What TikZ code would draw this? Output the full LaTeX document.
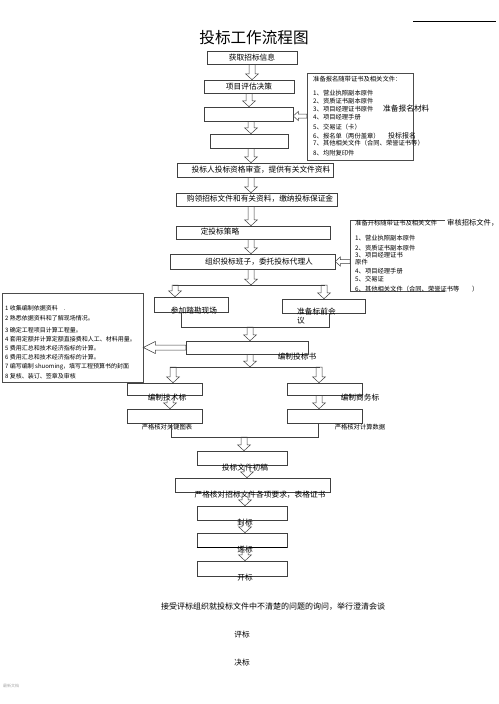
\documentclass[tikz,border=0pt]{standalone}
\usepackage{fontspec}
\setmainfont{Noto Sans CJK SC}
\usetikzlibrary{calc, positioning}
\tikzset{
  stepbox/.style={draw=black!75, line width=0.5pt, inner sep=0pt},
  notebox/.style={draw=black!70, line width=0.5pt},
  joinline/.style={draw=black!75, line width=0.5pt},
  hollowline/.style={draw=black!75, line width=0.5pt, line join=miter},
  boxtext/.style={inner sep=0pt, font=\fontsize{7.7}{8}\selectfont},
  notetext/.style={inner sep=0pt, anchor=west, font=\fontsize{6.3}{7}\selectfont},
  smalltext/.style={inner sep=0pt, anchor=west, font=\fontsize{6}{7}\selectfont},
}
% #1 shaft half width, #2 head half width, #3 head length, #4 from, #5 to
\newcommand{\blockarrow}[5]{%
  \draw[hollowline] let \p1=(#4), \p2=(#5), \p3=($(\p2)!#3!(\p1)$) in
    ($(\p1)!#1!90:(\p2)$) -- ($(\p3)!#1!90:(\p2)$) -- ($(\p3)!#2!90:(\p2)$) -- (\p2)
    -- ($(\p3)!#2!-90:(\p2)$) -- ($(\p3)!#1!-90:(\p2)$) -- ($(\p1)!#1!-90:(\p2)$) -- cycle;
}
\newcommand{\hollowarrow}[2]{\blockarrow{3pt}{6.5pt}{6pt}{#1}{#2}}
\newcommand{\smallarrow}[2]{\blockarrow{2pt}{4.5pt}{5pt}{#1}{#2}}

\begin{document}
\begin{tikzpicture}[x=1pt, y=-1pt]
\path[use as bounding box, fill=white] (0,0) rectangle (498,704);
\node[font=\fontsize{15.6}{16}\selectfont] (title) at (254,37.5) {投标工作流程图};
\coordinate (rule-l) at (413,21);
\coordinate (rule-r) at (496,21);
\draw[line width=1pt] (rule-l) -- (rule-r);

% main column
\node[stepbox, minimum width=90, minimum height=13, boxtext] (b1) at (252,57.5) {获取招标信息};
\node[stepbox, minimum width=90, minimum height=13, boxtext] (b2) at (249,86.5) {项目评估决策};
\node[stepbox, minimum width=89, minimum height=14] (b3) at (248.5,114) {};
\node[stepbox, minimum width=78, minimum height=14] (b4) at (249,141) {};
\node[stepbox, minimum width=156, minimum height=14] (b5) at (255,170) {};
\node[boxtext] (t5) at (261,170) {投标人投标资格审查，提供有关文件资料};
\node[stepbox, minimum width=161, minimum height=13] (b6) at (256.5,199.5) {};
\node[boxtext] (t6) at (260,199) {购领招标文件和有关资料，缴纳投标保证金};
\node[stepbox, minimum width=154, minimum height=13] (b7) at (253,232.5) {};
\node[boxtext] (t7) at (220,232) {定投标策略};
\node[stepbox, minimum width=165, minimum height=15] (b8) at (252.5,261.5) {};
\node[boxtext] (t8) at (259,262) {组织投标班子，委托投标代理人};

\hollowarrow{b1.south}{b1.south |- b2.north}
\hollowarrow{b2.south}{b2.south |- b3.north}
\hollowarrow{b3.south -| 251,0}{b4.north -| 251,0}
\hollowarrow{b4.south -| 251,0}{b5.north -| 251,0}
\hollowarrow{b5.south -| 251,0}{b6.north -| 251,0}
\hollowarrow{b6.south -| 251,0}{b7.north -| 251,0}
\hollowarrow{b7.south -| 251,0}{b8.north -| 251,0}

% note: registration papers
\node[notebox, minimum width=106, minimum height=87] (n1) at (360,116.5) {};
\node[notetext] (n1-0) at (313,79) {准备报名随带证书及相关文件：};
\node[notetext] (n1-1) at (313,93) {1、营业执照副本原件};
\node[notetext] (n1-2) at (313,101) {2、资质证书副本原件};
\node[notetext] (n1-3) at (313,109) {3、项目经理证书原件};
\node[boxtext, anchor=west] (n1-a) at (383,109) {准备报名材料};
\node[notetext] (n1-4) at (313,117) {4、项目经理手册};
\node[notetext] (n1-5) at (313,127) {5、交易证（卡）};
\node[notetext] (n1-6) at (313,136) {6、报名单（两份盖章）};
\node[notetext, font=\fontsize{7}{8}\selectfont] (n1-b) at (388,136) {投标报名};
\node[notetext] (n1-7) at (313,143) {7、其他相关文件（合同、荣誉证书等）};
\node[notetext] (n1-8) at (313,153) {8、均附复印件};
\smallarrow{n1.west |- 0,116}{b3.east |- 0,116}

% note: opening papers
\coordinate (n2) at (350,220);
\coordinate (n2-r) at (445,291);
\draw[notebox] (n2-r |- n2) -- (n2) |- (n2-r);
\node[notetext] (n2-0) at (355,223) {准备开标随带证书及相关文件};
\node[notetext, font=\fontsize{7.3}{8}\selectfont] (n2-a) at (447,223) {审核招标文件，};
\node[notetext] (n2-1) at (355,238) {1、营业执照副本原件};
\node[notetext] (n2-2) at (355,248) {2、资质证书副本原件};
\node[notetext] (n2-3) at (355,255) {3、项目经理证书};
\node[notetext] (n2-3b) at (355,262) {原件};
\node[notetext] (n2-4) at (355,271) {4、项目经理手册};
\node[notetext] (n2-5) at (355,279) {5、交易证};
\node[notetext] (n2-6) at (355,289) {6、其他相关文件（合同、荣誉证书等\quad\quad）};
\smallarrow{n2 |- b8}{b8.east}

% split to site visit and pre-bid meeting
\coordinate (s1l) at (175,285);
\coordinate (s1r) at (324,285);
\draw[joinline] ([xshift=-2]s1l) -- ([xshift=1]s1r);
\hollowarrow{b8.south -| 251,0}{s1l -| 251,0}
\node[stepbox, minimum width=74, minimum height=15] (b9) at (191,304.5) {};
\node[boxtext] (t9) at (194,311) {参加踏勘现场};
\node[stepbox, minimum width=83, minimum height=14] (b10) at (323.5,306) {};
\node[boxtext, anchor=north west, align=left, font=\fontsize{7.7}{9}\selectfont] (t10) at (297,308) {准备标前会\\议};
\hollowarrow{s1l}{s1l |- b9.north}
\hollowarrow{s1r}{s1r |- b10.north}

\coordinate (m1l) at (181,327);
\coordinate (m1r) at (329,327);
\draw[joinline] (m1l |- b9.south) -- (m1l) -- (m1r) -- (m1r |- b10.south);
\node[stepbox, minimum width=122, minimum height=13] (b11) at (247,347.5) {};
\node[boxtext] (t11) at (297,357) {编制投标书};
\hollowarrow{m1l -| 250,0}{b11.north -| 250,0}

% note: estimate steps
\node[notebox, minimum width=141, minimum height=89] (n3) at (72.5,337.5) {};
\node[smalltext] (n3-1) at (5,308) {1\ 收集编制依据资料\quad .};
\node[smalltext] (n3-2) at (5,318) {2\ 熟悉依据资料和了解现场情况。};
\node[smalltext] (n3-3) at (5,330) {3\ 确定工程项目计算工程量。};
\node[smalltext] (n3-4) at (5,339) {4\ 套用定额并计算定额直接费和人工、材料用量。};
\node[smalltext] (n3-5) at (5,348) {5\ 费用汇总和技术经济指标的计算。};
\node[smalltext] (n3-6) at (5,357) {6\ 费用汇总和技术经济指标的计算。};
\node[smalltext] (n3-7) at (5,367) {7\ 编写编制\ shuoming，填写工程预算书的封面};
\node[smalltext] (n3-8) at (5,376) {8\ 复核、装订、签章及审核};
\blockarrow{2.5pt}{6pt}{12pt}{b11.west}{n3.east |- b11.west}

% split to technical and commercial parts
\coordinate (s2l) at (173,367);
\coordinate (s2r) at (319,367);
\draw[joinline] ([xshift=-3]s2l) -- ([xshift=1]s2r);
\hollowarrow{b11.south -| 250,0}{s2l -| 250,0}
\node[stepbox, minimum width=75, minimum height=12] (b12) at (164.5,389) {};
\node[boxtext] (t12) at (167,398) {编制技术标};
\node[stepbox, minimum width=75, minimum height=12] (b13) at (324.5,389) {};
\node[boxtext] (t13) at (360,398) {编制商务标};
\hollowarrow{s2l}{s2l |- b12.north}
\hollowarrow{s2r}{s2r |- b13.north}
\node[stepbox, minimum width=75, minimum height=14] (b14) at (164.5,416) {};
\node[notetext, anchor=center] (t14) at (167,427) {严格核对关键图表};
\node[stepbox, minimum width=75, minimum height=14] (b15) at (324.5,416) {};
\node[notetext, anchor=center] (t15) at (360,427) {严格核对计算数据};
\hollowarrow{b12.south -| 170,0}{b14.north -| 170,0}
\hollowarrow{b13.south -| s2r}{b15.north -| s2r}

\coordinate (m2l) at (171,437);
\coordinate (m2r) at (318,437);
\draw[joinline] (m2l |- b14.south) -- (m2l) -- (m2r) -- (m2r |- b15.south);
\node[stepbox, minimum width=90, minimum height=14] (b16) at (242,458) {};
\node[boxtext] (t16) at (245,468) {投标文件初稿};
\hollowarrow{m2l -| 244,0}{b16.north -| 244,0}

\node[stepbox, minimum width=155, minimum height=14] (b17) at (252.5,485) {};
\node[boxtext] (t17) at (260,495) {严格核对招标文件各项要求，表格证书};
\node[stepbox, minimum width=90, minimum height=14] (b18) at (242,513) {};
\node[boxtext] (t18) at (245,523) {封标};
\node[stepbox, minimum width=90, minimum height=14] (b19) at (242,540) {};
\draw[line width=1pt] (b19.south west) -- (b19.south east);
\node[boxtext] (t19) at (245,550) {递标};
\node[stepbox, minimum width=90, minimum height=15] (b20) at (242,568.5) {};
\node[boxtext] (t20) at (245,578) {开标};
\hollowarrow{b16.south -| 247,0}{b17.north -| 247,0}
\hollowarrow{b17.south -| 245,0}{b18.north -| 245,0}
\hollowarrow{b18.south -| 245,0}{b19.north -| 245,0}
\hollowarrow{b19.south -| 245,0}{b20.north -| 245,0}

% closing steps
\node[boxtext, font=\fontsize{8}{9}\selectfont] (c1) at (273,607) {接受评标组织就投标文件中不清楚的问题的询问，举行澄清会谈};
\node[boxtext] (c2) at (242,635) {评标};
\node[boxtext] (c3) at (242,663) {决标};
\node[inner sep=0pt, anchor=west, text=black!35, font=\fontsize{4}{5}\selectfont] (foot) at (3,686) {最新文档};
\end{tikzpicture}
\end{document}
